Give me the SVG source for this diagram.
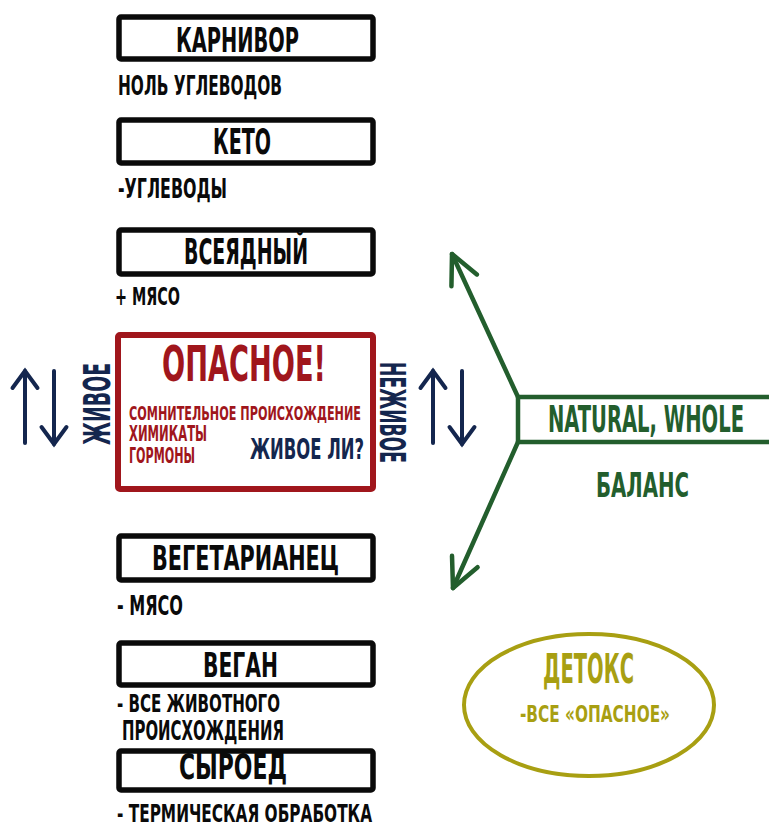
<svg xmlns="http://www.w3.org/2000/svg" width="769" height="825" viewBox="0 0 769 825">
<style>
text{font-family:"DejaVu Sans Condensed","DejaVu Sans","Liberation Sans",sans-serif;font-weight:bold}
.box{fill:#fff;stroke:#0a0a0a;stroke-width:5.5}
.blk{fill:#0a0a0a}
.red{fill:#a0161c}
.navy{fill:#14264e}
.grn{fill:#235e2d}
.olv{fill:#a89f12}
.nline{stroke:#14264e;stroke-width:4;fill:none;stroke-linecap:round}
.gline{stroke:#235e2d;stroke-width:4.5;fill:none;stroke-linecap:round;stroke-linejoin:round}
</style>
<defs>
<marker id="ahn" markerUnits="userSpaceOnUse" viewBox="-22 -16 26 32" markerWidth="26" markerHeight="32" refX="0" refY="0" orient="auto" overflow="visible">
<path d="M-17,-12.5 L0,0 L-17,12.5" class="nline"/>
</marker>
<marker id="ahg" markerUnits="userSpaceOnUse" viewBox="-34 -18 38 36" markerWidth="38" markerHeight="36" refX="0" refY="0" orient="auto" overflow="visible">
<path d="M-29,-14 L0,0 L-29,14" class="gline"/>
</marker>
</defs>
<rect width="769" height="825" fill="#fff"/>

<g id="connectors">
<line x1="25" y1="443" x2="25" y2="371" class="nline" marker-end="url(#ahn)"/>
<line x1="54" y1="371" x2="54" y2="444" class="nline" marker-end="url(#ahn)"/>
<line x1="433" y1="443" x2="433" y2="371" class="nline" marker-end="url(#ahn)"/>
<line x1="462" y1="371" x2="462" y2="444" class="nline" marker-end="url(#ahn)"/>
<line x1="518" y1="397" x2="452" y2="254" class="gline" marker-end="url(#ahg)"/>
<line x1="518" y1="442" x2="453" y2="588" class="gline" marker-end="url(#ahg)"/>
</g>

<g id="karnivor">
<rect x="119" y="17" width="254" height="42" rx="2" class="box"/>
<text x="176" y="52" font-size="34" textLength="123" lengthAdjust="spacingAndGlyphs" class="blk">КАРНИВОР</text>
<text x="118" y="95" font-size="27" textLength="164" lengthAdjust="spacingAndGlyphs" class="blk">НОЛЬ УГЛЕВОДОВ</text>
</g>

<g id="keto">
<rect x="119" y="120" width="254" height="43" rx="2" class="box"/>
<text x="213" y="154" font-size="35" textLength="58" lengthAdjust="spacingAndGlyphs" class="blk">КЕТО</text>
<text x="118" y="198" font-size="26" textLength="109" lengthAdjust="spacingAndGlyphs" class="blk">-УГЛЕВОДЫ</text>
</g>

<g id="vseyadny">
<rect x="119" y="230" width="254" height="44" rx="2" class="box"/>
<text x="184" y="264" font-size="35" textLength="124" lengthAdjust="spacingAndGlyphs" class="blk">ВСЕЯДНЫЙ</text>
<text x="115" y="305" font-size="24" textLength="65" lengthAdjust="spacingAndGlyphs" class="blk">+ МЯСО</text>
</g>

<g id="opasnoe">
<rect x="118" y="335" width="255" height="154" rx="2" fill="#fff" stroke="#a0161c" stroke-width="6"/>
<text x="162" y="381" font-size="50" textLength="164" lengthAdjust="spacingAndGlyphs" class="red">ОПАСНОЕ!</text>
<text x="129" y="420" font-size="20" textLength="232" lengthAdjust="spacingAndGlyphs" class="red">СОМНИТЕЛЬНОЕ ПРОИСХОЖДЕНИЕ</text>
<text x="129" y="441" font-size="21" textLength="78" lengthAdjust="spacingAndGlyphs" class="red">ХИМИКАТЫ</text>
<text x="129" y="463" font-size="21" textLength="66" lengthAdjust="spacingAndGlyphs" class="red">ГОРМОНЫ</text>
<text x="250" y="459" font-size="29" textLength="114" lengthAdjust="spacingAndGlyphs" class="navy">ЖИВОЕ ЛИ?</text>
</g>

<g id="zhivoe">
<text transform="translate(110,445) rotate(-90)" x="0" y="0" font-size="37" textLength="82" lengthAdjust="spacingAndGlyphs" class="navy">ЖИВОЕ</text>
</g>

<g id="nezhivoe">
<text transform="translate(380,362) rotate(90)" x="0" y="0" font-size="36" textLength="101" lengthAdjust="spacingAndGlyphs" class="navy">НЕЖИВОЕ</text>
</g>

<g id="natural">
<polyline points="775,397 518,397 518,442 775,442" class="gline"/>
<text x="548" y="432" font-size="37" textLength="196" lengthAdjust="spacingAndGlyphs" class="grn">NATURAL, WHOLE</text>
<text x="596" y="497" font-size="34" textLength="93" lengthAdjust="spacingAndGlyphs" class="grn">БАЛАНС</text>
</g>

<g id="vegetarianets">
<rect x="119" y="536" width="254" height="44" rx="2" class="box"/>
<text x="152" y="570" font-size="34" textLength="187" lengthAdjust="spacingAndGlyphs" class="blk">ВЕГЕТАРИАНЕЦ</text>
<text x="117" y="615" font-size="26" textLength="66" lengthAdjust="spacingAndGlyphs" class="blk">- МЯСО</text>
</g>

<g id="vegan">
<rect x="119" y="643" width="254" height="42" rx="2" class="box"/>
<text x="203" y="677" font-size="34" textLength="75" lengthAdjust="spacingAndGlyphs" class="blk">ВЕГАН</text>
<text x="117" y="712" font-size="25" textLength="163" lengthAdjust="spacingAndGlyphs" class="blk">- ВСЕ ЖИВОТНОГО</text>
<text x="122" y="740" font-size="27" textLength="162" lengthAdjust="spacingAndGlyphs" class="blk">ПРОИСХОЖДЕНИЯ</text>
</g>

<g id="syroed">
<rect x="119" y="751" width="254" height="39" rx="2" class="box"/>
<text x="179" y="779" font-size="36" textLength="108" lengthAdjust="spacingAndGlyphs" class="blk">СЫРОЕД</text>
<text x="117" y="822" font-size="25" textLength="255" lengthAdjust="spacingAndGlyphs" class="blk">- ТЕРМИЧЕСКАЯ ОБРАБОТКА</text>
</g>

<g id="detoks">
<ellipse cx="589" cy="705" rx="125" ry="71" fill="#fff" stroke="#a89f12" stroke-width="4"/>
<text x="543" y="683" font-size="41" textLength="91" lengthAdjust="spacingAndGlyphs" class="olv">ДЕТОКС</text>
<text x="520" y="722" font-size="23" textLength="150" lengthAdjust="spacingAndGlyphs" class="olv">-ВСЕ «ОПАСНОЕ»</text>
</g>
</svg>
